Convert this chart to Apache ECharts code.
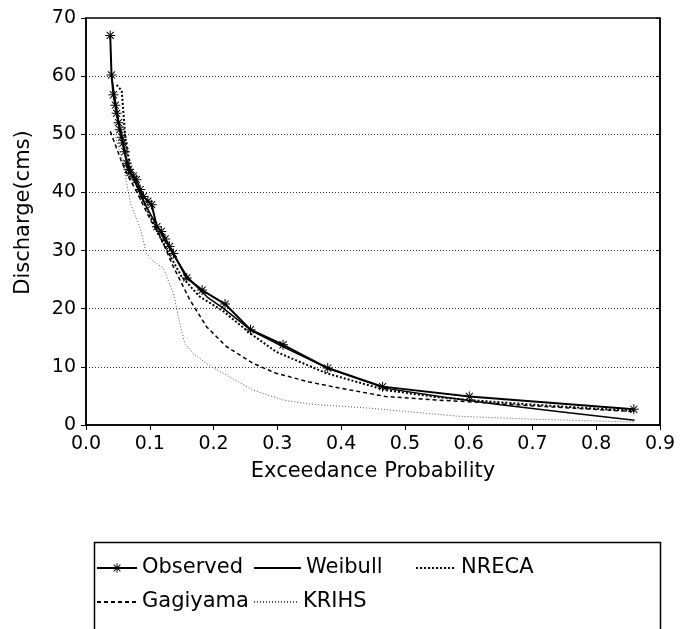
<!DOCTYPE html>
<html>
<head>
<meta charset="utf-8">
<script src="https://cdn.jsdelivr.net/npm/echarts@6/dist/echarts.min.js"></script>
<style>
  body { margin: 0; background: #fff; }
  /* chart size must be fixed */
  #main { width: 689px; height: 629px; }
</style>
</head>
<body>
<div id="main"></div>
<script>
var xTicks = [0, 0.1, 0.2, 0.3, 0.4, 0.5, 0.6, 0.7, 0.8, 0.9];
var yTicks = [0, 10, 20, 30, 40, 50, 60, 70];

var obsX = [0.038, 0.040, 0.043, 0.046, 0.048, 0.051, 0.053, 0.056, 0.058, 0.061, 0.064, 0.067, 0.069, 0.074, 0.079, 0.085, 0.090, 0.097, 0.103, 0.111, 0.118, 0.124, 0.131, 0.137, 0.158, 0.182, 0.218, 0.258, 0.309, 0.379, 0.465, 0.601, 0.859];
var obsY = [67.0, 60.2, 56.8, 55.0, 53.6, 52.0, 50.8, 49.5, 48.5, 47.0, 45.0, 44.0, 43.4, 42.8, 42.2, 40.5, 39.3, 38.5, 37.9, 34.1, 33.3, 32.0, 30.7, 29.5, 25.3, 23.2, 20.8, 16.4, 13.8, 9.8, 6.6, 4.9, 2.7];

var weiX = [0.040, 0.050, 0.060, 0.070, 0.080, 0.090, 0.100, 0.120, 0.140, 0.160, 0.190, 0.215, 0.260, 0.310, 0.380, 0.470, 0.560, 0.650, 0.750, 0.860];
var weiY = [60.0, 53.0, 47.0, 43.5, 41.0, 38.5, 36.5, 32.5, 28.8, 25.3, 22.0, 20.1, 16.2, 13.4, 9.7, 6.3, 4.8, 3.5, 2.2, 0.8];

var nreX = [0.048, 0.056, 0.062, 0.070, 0.080, 0.090, 0.100, 0.115, 0.130, 0.150, 0.178, 0.215, 0.257, 0.298, 0.377, 0.470, 0.550, 0.600, 0.700, 0.860];
var nreY = [58.5, 57.5, 49.0, 44.0, 41.0, 38.5, 36.0, 32.5, 29.5, 25.5, 22.1, 19.6, 15.8, 12.6, 8.9, 6.0, 4.8, 4.3, 3.5, 2.4];

var gagX = [0.038, 0.045, 0.055, 0.065, 0.080, 0.100, 0.116, 0.137, 0.163, 0.189, 0.220, 0.262, 0.298, 0.350, 0.400, 0.470, 0.549, 0.600, 0.700, 0.860];
var gagY = [50.5, 48.5, 45.5, 43.0, 40.0, 35.5, 32.5, 27.2, 21.5, 16.9, 13.5, 10.6, 8.9, 7.4, 6.3, 4.9, 4.3, 4.0, 3.3, 2.3];

var kriX = [0.045, 0.056, 0.070, 0.085, 0.095, 0.105, 0.121, 0.137, 0.147, 0.155, 0.168, 0.194, 0.220, 0.262, 0.309, 0.350, 0.444, 0.585, 0.700, 0.860];
var kriY = [50.0, 46.0, 38.0, 33.8, 29.5, 28.2, 27.0, 22.7, 17.5, 14.0, 12.3, 10.2, 8.6, 6.0, 4.3, 3.6, 2.9, 1.5, 1.0, 0.5];

var names = ['Observed', 'Weibull', 'NRECA', 'Gagiyama', 'KRIHS'];

function pairs(xs, ys) {
  return xs.map(function (x, i) { return [x, ys[i]]; });
}

var font = 'DejaVu Sans';
var star = 'path://M-1,-10 L1,-10 L1,10 L-1,10 Z M-10,-1 L10,-1 L10,1 L-10,1 Z ' +
  'M6.36,7.78 L7.78,6.36 L-6.36,-7.78 L-7.78,-6.36 Z M-6.36,7.78 L-7.78,6.36 L6.36,-7.78 L7.78,-6.36 Z';

// one legend per entry so the columns sit where the picture has them
var legendPos = [[96, 556, 40], [253, 556, 47], [415, 556, 40], [96, 590, 40], [253, 590, 44]];
var legends = names.map(function (n, i) {
  return {
    data: [i === 0 ? n : { name: n, itemStyle: { opacity: 0 } }],
    left: legendPos[i][0], top: legendPos[i][1],
    padding: 0,
    itemWidth: legendPos[i][2],
    itemHeight: 12,
    selectedMode: false,
    textStyle: { fontFamily: font, fontSize: 21, color: '#000', lineHeight: 24 }
  };
});

var myChart = echarts.init(document.getElementById('main'));

var option = {
  animation: false,
  backgroundColor: '#fff',
  grid: {
    left: 86, right: 29, top: 18, bottom: 204,
    show: true, borderColor: '#000', borderWidth: 1.5
  },
  legend: legends,
  graphic: [{
    type: 'rect',
    left: 92, top: 540,
    shape: { width: 566, height: 110 },
    style: { fill: 'none', stroke: '#000', lineWidth: 1.5 }
  }],
  xAxis: {
    type: 'value',
    min: xTicks[0], max: xTicks[xTicks.length - 1], interval: 0.1,
    name: 'Exceedance Probability',
    nameLocation: 'middle',
    nameGap: 36,
    nameTextStyle: { fontFamily: font, fontSize: 21, color: '#000' },
    axisLine: { lineStyle: { color: '#000', width: 1.5 } },
    axisTick: { inside: false, length: 5, lineStyle: { color: '#000' } },
    axisLabel: {
      fontFamily: font, fontSize: 19, color: '#000', margin: 10,
      formatter: function (v) { return v.toFixed(1); }
    },
    splitLine: { show: false }
  },
  yAxis: [{
    type: 'value',
    min: yTicks[0], max: yTicks[yTicks.length - 1], interval: 10,
    name: 'Discharge(cms)',
    nameLocation: 'middle',
    nameGap: 52,
    nameTextStyle: { fontFamily: font, fontSize: 21, color: '#000', padding: [0, 0, 0, 18] },
    axisLine: { show: true, lineStyle: { color: '#000', width: 1.5 } },
    axisTick: { show: true, length: 5, lineStyle: { color: '#000' } },
    axisLabel: { fontFamily: font, fontSize: 19, color: '#000', margin: 10 },
    splitLine: { show: true, lineStyle: { color: '#333', type: [1, 2], width: 1 } }
  }, {
    type: 'value',
    position: 'right',
    min: yTicks[0], max: yTicks[yTicks.length - 1], interval: 10,
    axisLine: { show: true, lineStyle: { color: '#000', width: 1.5 } },
    axisTick: { show: true, inside: true, length: 4, lineStyle: { color: '#000' } },
    axisLabel: { show: false },
    splitLine: { show: false }
  }],
  series: [
    {
      name: 'Observed', type: 'line',
      data: pairs(obsX, obsY),
      symbol: star, symbolSize: 10,
      itemStyle: { color: '#000' },
      lineStyle: { color: '#000', width: 2 }
    },
    {
      name: 'Weibull', type: 'line',
      data: pairs(weiX, weiY),
      symbol: 'none',
      itemStyle: { color: '#000' },
      lineStyle: { color: '#000', width: 1.5 }
    },
    {
      name: 'NRECA', type: 'line',
      data: pairs(nreX, nreY),
      symbol: 'none',
      itemStyle: { color: '#000' },
      lineStyle: { color: '#000', width: 2, type: [2, 2] }
    },
    {
      name: 'Gagiyama', type: 'line',
      data: pairs(gagX, gagY),
      symbol: 'none',
      itemStyle: { color: '#000' },
      lineStyle: { color: '#000', width: 1.5, type: [4, 3] }
    },
    {
      name: 'KRIHS', type: 'line',
      data: pairs(kriX, kriY),
      symbol: 'none',
      itemStyle: { color: '#555' },
      lineStyle: { color: '#555', width: 1, type: [1, 2] }
    }
  ]
};
myChart.setOption(option);
</script>
</body>
</html>
